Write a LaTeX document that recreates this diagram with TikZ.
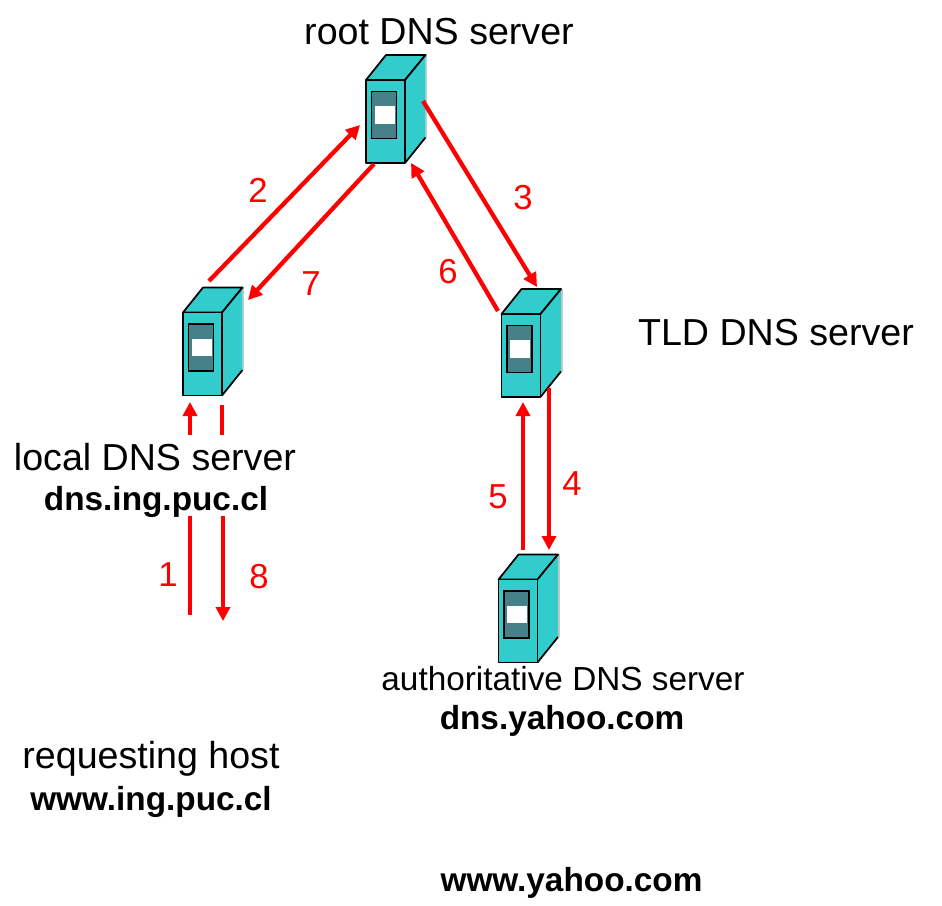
\documentclass[tikz,border=0pt]{standalone}
\usepackage{fontspec}
\setmainfont{Liberation Sans}
\usetikzlibrary{arrows.meta}
\definecolor{srvbody}{HTML}{33CCCC}
\definecolor{srvpanel}{HTML}{468088}
\definecolor{srvedge}{HTML}{C8C8C8}
\tikzset{
  lbl/.style={inner sep=0pt,font=\fontsize{28.2pt}{32pt}\selectfont,text=black},
  smalllbl/.style={inner sep=0pt,font=\fontsize{25pt}{30pt}\selectfont,text=black},
  boldlbl/.style={inner sep=0pt,font=\fontsize{25pt}{30pt}\selectfont\bfseries,text=black},
  num/.style={inner sep=0pt,font=\fontsize{26pt}{30pt}\selectfont,text=red},
  flow/.style={draw=red,line width=3.2pt,-{Triangle[length=10.5pt,width=10.5pt]}},
  flowplain/.style={draw=red,line width=3.2pt},
  srvline/.style={draw=black,line width=1.3pt,line join=round,fill=srvbody},
  srvfront/.style={srvline,minimum width=29.25pt,minimum height=62.25pt,inner sep=0pt,outer sep=0pt}
}
% #1 name, #2 x and #3 y of the front face centre
\newcommand{\serverbox}[3]{%
  \fill[srvedge] (#2+40,#3-67) -- (#2+41.5,#3-67) -- (#2+41.5,#3+16) -- (#2+40,#3+16) -- cycle;
  \path[srvline] (#2-19.5,#3-41.5) -- (#2+0.5,#3-66.5) -- (#2+40,#3-66.5) -- (#2+19.5,#3-41.5) -- cycle;
  \path[srvline,draw=none] (#2+19.5,#3-41.5) -- (#2+40,#3-66.5) -- (#2+40,#3+16) -- (#2+19.5,#3+41.5) -- cycle;
  \draw[black,line width=1.3pt,line join=round] (#2+19.5,#3-41.5) -- (#2+40,#3-66.5);
  \draw[black,line width=1.3pt] (#2+19.5,#3+41.5) -- (#2+40,#3+16);
  \node[srvfront] (#1) at (#2,#3) {};
  \path[draw=black,line width=1.3pt,fill=srvpanel] (#2-14,#3-30) rectangle (#2+11,#3+17);
  \fill[white] (#2-11,#3-15.5) rectangle (#2+9,#3+2);
}
\begin{document}
\begin{tikzpicture}[x=0.75pt,y=-0.75pt]
\useasboundingbox (0,0) rectangle (942,906);
\fill[white] (0,0) rectangle (942,906);
\serverbox{root}{385.5}{121.5}
\serverbox{local}{202.5}{354}
\serverbox{tld}{521}{355.5}
\serverbox{auth}{518}{621}

\node[lbl,anchor=base] (troot) at (439,45) {root DNS server};
\node[lbl,anchor=base] (ttld) at (776,345) {TLD DNS server};
\node[lbl,anchor=base] (tlocal) at (155,470) {local DNS server};
\node[boldlbl,anchor=base] (tlocalb) at (156,510) {dns.ing.puc.cl};
\node[smalllbl,anchor=base] (tauth) at (563,690) {authoritative DNS server};
\node[boldlbl,anchor=base] (tauthb) at (562,729) {dns.yahoo.com};
\node[lbl,anchor=base] (thost) at (151,768) {requesting host};
\node[boldlbl,anchor=base] (thostb) at (151,810) {www.ing.puc.cl};
\node[boldlbl,anchor=base] (twww) at (571.5,891) {www.yahoo.com};

\node[num,anchor=base] (n1) at (168,586) {1};
\node[num,anchor=base] (n2) at (258,202) {2};
\node[num,anchor=base] (n3) at (523,209) {3};
\node[num,anchor=base] (n4) at (572,495) {4};
\node[num,anchor=base] (n5) at (498,508) {5};
\node[num,anchor=base] (n6) at (448,283) {6};
\node[num,anchor=base] (n7) at (311,295) {7};
\node[num,anchor=base] (n8) at (259,588) {8};

\coordinate (a2s) at (209,281); \coordinate (a2e) at (360,125);
\coordinate (a7s) at (374,164); \coordinate (a7e) at (248,300);
\coordinate (a3s) at (423,101); \coordinate (a3e) at (537,287);
\coordinate (a6s) at (498,311); \coordinate (a6e) at (411,163);
\coordinate (a4s) at (549,388); \coordinate (a4e) at (549,550);
\coordinate (a5s) at (523,550); \coordinate (a5e) at (523,402);
\coordinate (a1s) at (190,435); \coordinate (a1e) at (190,402);
\coordinate (a8s) at (222,405); \coordinate (a8e) at (222,435);
\coordinate (b1s) at (190,516); \coordinate (b1e) at (190,615);
\coordinate (b8s) at (223,516); \coordinate (b8e) at (223,621);
\draw[flow] (a2s) -- (a2e);
\draw[flow] (a7s) -- (a7e);
\draw[flow] (a3s) -- (a3e);
\draw[flow] (a6s) -- (a6e);
\draw[flow] (a4s) -- (a4e);
\draw[flow] (a5s) -- (a5e);
\draw[flow] (a1s) -- (a1e);
\draw[flowplain] (a8s) -- (a8e);
\draw[flowplain] (b1s) -- (b1e);
\draw[flow] (b8s) -- (b8e);
\end{tikzpicture}
\end{document}
